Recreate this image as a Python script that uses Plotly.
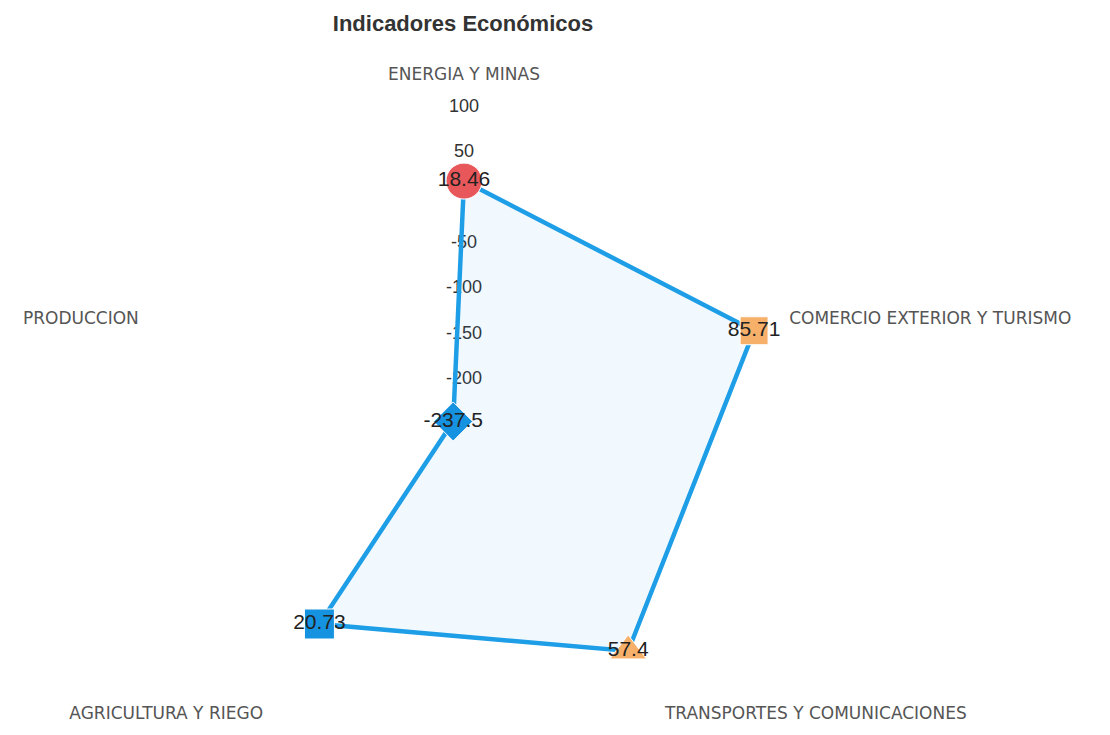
import plotly.graph_objects as go

# datos del gráfico
categorias = ["ENERGIA Y MINAS", "COMERCIO EXTERIOR Y TURISMO", "TRANSPORTES Y COMUNICACIONES",
              "AGRICULTURA Y RIEGO", "PRODUCCION"]
valores = [18.46, 85.71, 57.4, 20.73, -237.5]
ticks_radiales = [100, 50, -50, -100, -150, -200]

simbolos = ["circle", "square", "triangle-up", "square", "diamond"]
colores = ["#e8585a", "#f6b06a", "#f6b06a", "#1592e0", "#1592e0"]
tamanos = [36, 28, 32, 30, 30]

azul = "#1e9ee6"

fig = go.Figure()

# etiquetas del eje radial sobre el eje vertical
fig.add_trace(go.Scatterpolar(
    r=ticks_radiales, theta=[categorias[0]] * len(ticks_radiales),
    mode="text", text=[str(t) for t in ticks_radiales],
    textfont=dict(family="Liberation Sans", size=18, color="#333333"),
    hoverinfo="skip", showlegend=False))

# área y contorno
fig.add_trace(go.Scatterpolar(
    r=valores + [valores[0]], theta=categorias + [categorias[0]],
    mode="lines", fill="toself", fillcolor="rgba(30,158,230,0.06)",
    line=dict(color=azul, width=4.5), showlegend=False))

# puntos con su valor
fig.add_trace(go.Scatterpolar(
    r=valores, theta=categorias, mode="markers+text",
    marker=dict(symbol=simbolos, color=colores, size=tamanos, opacity=1),
    text=[str(v) for v in valores], textposition="middle center",
    textfont=dict(family="Liberation Sans", size=21, color="#222222"),
    showlegend=False))

R = 318
cx = 456
fig.update_layout(
    width=1110, height=735,
    margin=dict(l=0, r=0, t=0, b=0),
    paper_bgcolor="white", plot_bgcolor="white",
    title=dict(text="Indicadores Económicos", x=455 / 1110, xanchor="center",
               y=1 - 15 / 735, yanchor="middle",
               font=dict(family="Liberation Sans", size=22, color="#333333", weight="bold")),
    polar=dict(
        domain=dict(x=[(cx - R) / 1110, (cx + R) / 1110], y=[0, 2 * R / 735]),
        bgcolor="white",
        radialaxis=dict(range=[-250, 100], showgrid=False, showline=False,
                        showticklabels=False, ticks="", angle=90),
        angularaxis=dict(rotation=90, direction="clockwise", showgrid=False,
                         showline=False, ticks="outside", ticklen=20,
                         tickcolor="rgba(0,0,0,0)",
                         tickfont=dict(family="DejaVu Sans", size=17, color="#555555")),
    ),
)

fig.write_html("out.html")
